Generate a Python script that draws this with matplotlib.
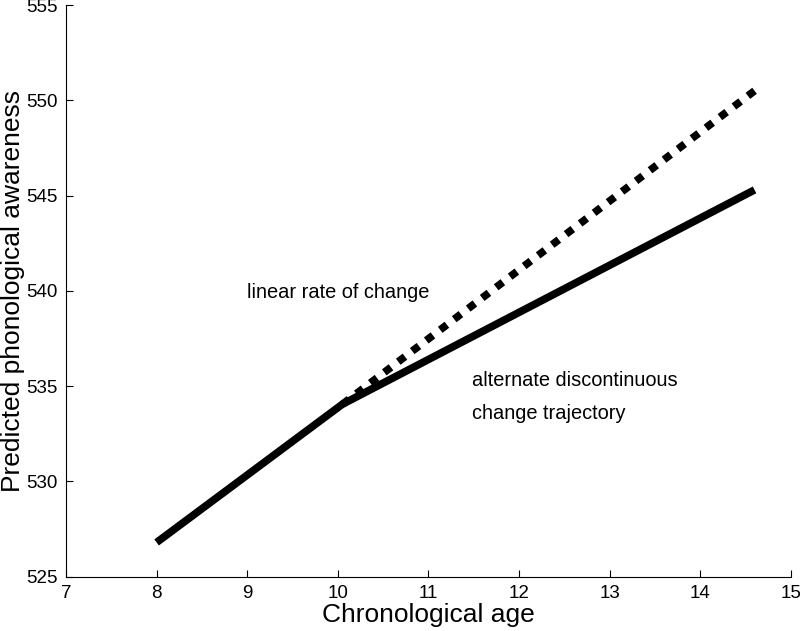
import matplotlib
matplotlib.use("Agg")
import matplotlib.pyplot as plt

# Trajectory values
solid_age = [8.0, 10.05, 14.6]
solid_score = [526.8, 534.05, 545.3]
dashed_age = [10.05, 14.6]
dashed_score = [534.05, 550.5]

x_ticks = [7, 8, 9, 10, 11, 12, 13, 14, 15]
y_ticks = [525, 530, 535, 540, 545, 550, 555]

plt.rcParams['font.family'] = ['Liberation Sans', 'DejaVu Sans']

fig = plt.figure(figsize=(8.0, 6.31), dpi=100)
ax = fig.add_axes([0.0825, 0.086, 0.906, 0.906])

ax.plot(solid_age, solid_score, color='black', linewidth=5.5, solid_capstyle='butt')
ax.plot(dashed_age, dashed_score, color='black', linewidth=5.5,
        linestyle=(0, (1.1, 1.2)), dash_capstyle='butt')

ax.text(9.0, 539.9, 'linear rate of change', fontsize=14.4, va='center')
ax.text(11.48, 535.3, 'alternate discontinuous', fontsize=14.4, va='center')
ax.text(11.48, 533.55, 'change trajectory', fontsize=14.4, va='center')

ax.set_xlim(7, 15)
ax.set_ylim(525, 555)
ax.set_xticks(x_ticks)
ax.set_yticks(y_ticks)
ax.tick_params(direction='in', length=5, labelsize=13.5, width=0.8, pad=6)
ax.spines['top'].set_visible(False)
ax.spines['right'].set_visible(False)
ax.set_xlabel('Chronological age', fontsize=19, labelpad=1)
ax.set_ylabel('Predicted phonological awareness', fontsize=19, labelpad=1)

plt.savefig('out.png', dpi=100)
plt.close()
